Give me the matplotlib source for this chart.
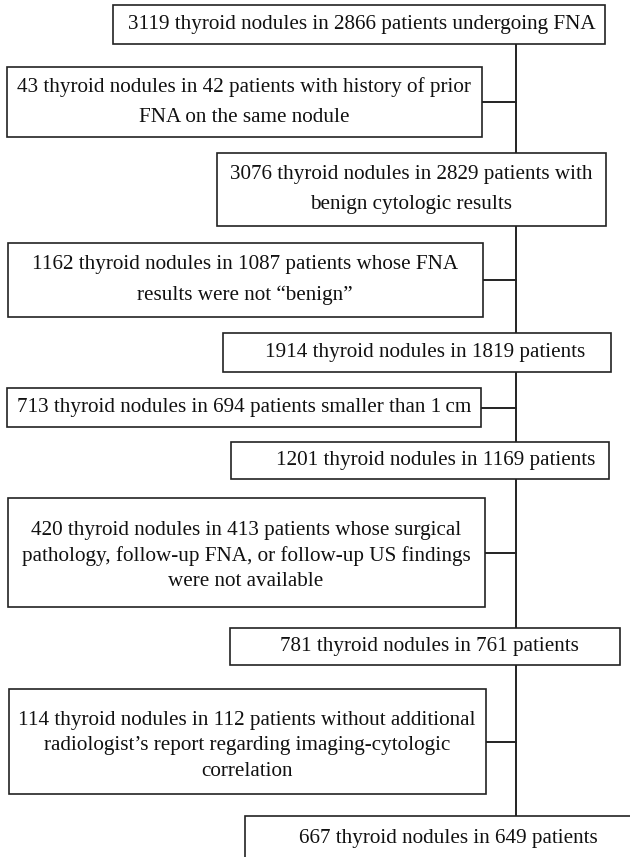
import matplotlib
matplotlib.use('Agg')
import matplotlib.pyplot as plt
from matplotlib.patches import Rectangle

# box texts, top to bottom
labels = [
    '3119 thyroid nodules in 2866 patients undergoing FNA',
    '43 thyroid nodules in 42 patients with history of prior\nFNA on the same nodule',
    '3076 thyroid nodules in 2829 patients with\nbenign cytologic results',
    '1162 thyroid nodules in 1087 patients whose FNA\nresults were not \u201cbenign\u201d',
    '1914 thyroid nodules in 1819 patients',
    '713 thyroid nodules in 694 patients smaller than 1\u2009cm',
    '1201 thyroid nodules in 1169 patients',
    '420 thyroid nodules in 413 patients whose surgical\npathology, follow-up FNA, or follow-up US findings\nwere not available',
    '781 thyroid nodules in 761 patients',
    '114 thyroid nodules in 112 patients without additional\nradiologist\u2019s report regarding imaging-cytologic\ncorrelation',
    '667 thyroid nodules in 649 patients',
]
# True = excluded group (box on the left, joined to the main line)
excluded = [False, True, False, True, False, True, False, True, False, True, False]

# layout in pixels: x0, y0, x1, y1, text centre x
boxes = [
    (113, 5, 605, 44, 362),
    (7, 67, 482, 137, 244),
    (217, 153, 606, 226, 411),
    (8, 243, 483, 317, 245),
    (223, 333, 611, 372, 425),
    (7, 388, 481, 427, 244),
    (231, 442, 609, 479, 436),
    (8, 498, 485, 607, 246),
    (230, 628, 620, 665, 429),
    (9, 689, 486, 794, 247),
    (245, 816, 660, 900, 448),
]
trunk_x = 516
col = '#222222'

fig = plt.figure(figsize=(6.3, 8.57), dpi=100)
ax = fig.add_axes([0, 0, 1, 1])
ax.set_xlim(0, 630)
ax.set_ylim(857, 0)
ax.axis('off')

# main vertical line
ax.plot([trunk_x, trunk_x], [boxes[0][3], boxes[-1][1]], color=col, lw=1.4, zorder=1)

for lab, side, (x0, y0, x1, y1, tx) in zip(labels, excluded, boxes):
    ax.add_patch(Rectangle((x0, y0), x1 - x0, y1 - y0, facecolor='white',
                           edgecolor=col, lw=1.2, zorder=2))
    lines = lab.split('\n')
    yc = (y0 + y1) / 2
    if y1 > 857:
        yc = 839
    gap = 30 if len(lines) == 2 else 25.5
    if len(lines) == 3:
        yc += 4
    for i, ln in enumerate(lines):
        yy = yc + (i - (len(lines) - 1) / 2) * gap
        ax.text(tx, yy, ln, ha='center', va='center', fontsize=15.2,
                family=['Liberation Serif', 'DejaVu Serif'], color='#111111', zorder=3)
    if side:
        ax.plot([x1, trunk_x], [(y0 + y1) / 2] * 2, color=col, lw=1.4, zorder=1)

fig.savefig('out.png', dpi=100)
